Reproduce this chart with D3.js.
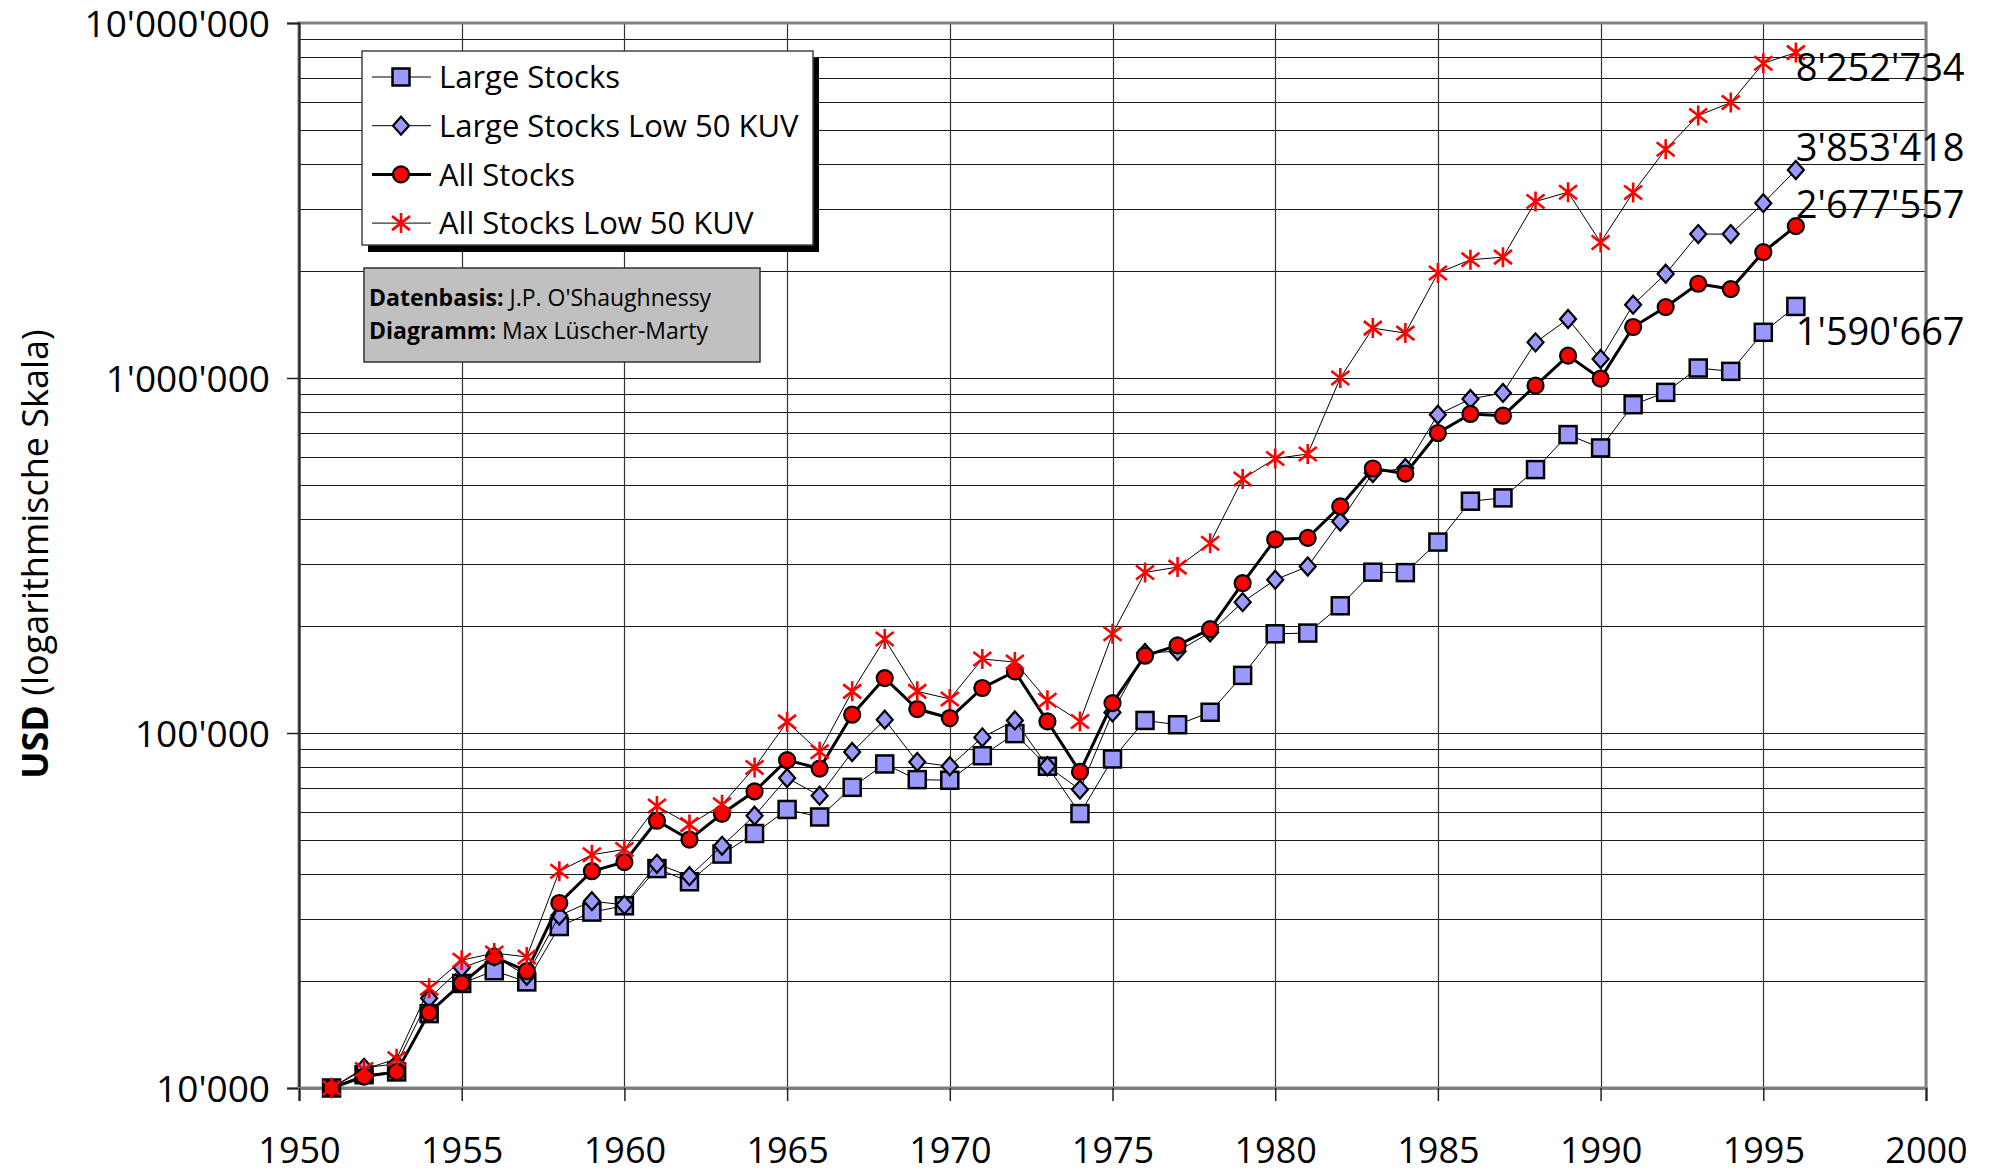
<!DOCTYPE html>
<html><head><meta charset="utf-8">
<script src="https://cdn.jsdelivr.net/npm/d3@7"></script>
<style>
html,body{margin:0;padding:0;background:#fff;}
svg{display:block;font-family:"Open Sans","Noto Sans",sans-serif;}
</style></head>
<body><svg id="chart" width="1997" height="1174"></svg>
<script>
const years = d3.range(1951, 1997);
const largeStocks = [10000,10900,11100,16200,19700,21400,19900,28500,31300,32600,41500,38100,45600,52100,60900,58000,70300,81800,73900,73600,86300,99600,80600,59300,84500,108500,105500,114400,145300,190300,191200,228200,283800,283000,345000,449700,459500,552100,692800,635300,841000,911100,1067000,1044000,1345000,1590667];
const largeLowKUV = [10000,11400,11700,17900,21800,23500,20700,30600,33600,32800,42800,39500,48100,58500,74700,66600,88400,109000,82900,80600,97200,108500,80600,69300,114300,168000,170000,192000,233700,270200,294400,394200,540000,558000,788400,872900,907500,1260000,1466000,1131000,1609000,1966000,2543000,2543000,3108000,3853418];
const allStocks = [10000,10770,11100,16300,19700,23400,21350,33200,40800,43300,56600,50100,59200,68500,83900,79400,112600,142800,116800,110200,133900,149100,107800,77700,121400,165100,176500,196200,264300,351000,354500,435000,556000,538000,700000,792000,783000,951500,1156000,995700,1392000,1584000,1843000,1780000,2263000,2677557];
const allLowKUV = [10000,11280,12090,19100,22900,24000,23400,40800,45400,47000,62300,55200,62800,80000,107500,88500,131000,183900,131000,124700,161600,158400,123600,107800,190300,283300,293300,342500,519600,593000,611000,1000000,1382000,1338000,1975000,2153000,2190000,3142000,3338000,2409000,3331000,4411000,5485000,5969000,7700000,8252734];
const seriesNames = ["Large Stocks","Large Stocks Low 50 KUV","All Stocks","All Stocks Low 50 KUV"];
const yTickValues = [10000,100000,1000000,10000000];
const xTickValues = [1950,1955,1960,1965,1970,1975,1980,1985,1990,1995,2000];
const endLabelDy = [39,-9,-8,28]; // label placement offsets (px)

const svg = d3.select("#chart");
const L = 299, R = 1926, T = 23, B = 1088;
const x = d3.scaleLinear().domain([1950,2000]).range([L,R]);
const y = d3.scaleLog().domain([1e4,1e7]).range([B,T]);
const loc = d3.formatLocale({decimal:".",thousands:"'",grouping:[3],currency:["",""]});
const fmt = loc.format(",d");

// gridlines
const minor = [];
for (let e=4;e<7;e++) for (let m=1;m<10;m++) minor.push(m*Math.pow(10,e));
minor.push(1e7);
const g = svg.append("g");
g.selectAll("line.h").data(minor).join("line")
 .attr("x1",L).attr("x2",R).attr("y1",d=>Math.round(y(d))+0.5).attr("y2",d=>Math.round(y(d))+0.5)
 .attr("stroke","#1a1a1a").attr("stroke-width",1.2);
g.selectAll("line.v").data(xTickValues).join("line")
 .attr("y1",T).attr("y2",B).attr("x1",d=>Math.round(x(d))+0.5).attr("x2",d=>Math.round(x(d))+0.5)
 .attr("stroke","#333").attr("stroke-width",1.2);

// frame
svg.append("rect").attr("x",L).attr("y",T).attr("width",R-L).attr("height",B-T)
 .attr("fill","none").attr("stroke","#808080").attr("stroke-width",3);

// axes
const yAxis = d3.axisLeft(y).tickValues(yTickValues).tickFormat(fmt).tickSize(12).tickPadding(17);
const ya = svg.append("g").attr("transform",`translate(${L},0)`).call(yAxis);
ya.select(".domain").attr("stroke","#222").attr("stroke-width",2);
ya.selectAll(".tick line").attr("stroke","#222").attr("stroke-width",1.5);
ya.selectAll(".tick text").attr("font-size",37).attr("fill","#000").attr("dy","0.36em").style("font-family","'Open Sans'");

const xAxis = d3.axisBottom(x).tickValues(xTickValues).tickFormat(d3.format("d")).tickSize(13).tickPadding(36);
const xa = svg.append("g").attr("transform",`translate(0,${B})`).call(xAxis);
xa.select(".domain").attr("stroke","#808080").attr("stroke-width",3);
xa.selectAll(".tick line").attr("stroke","#222").attr("stroke-width",1.5);
xa.selectAll(".tick text").attr("font-size",36).attr("fill","#000").style("font-family","'Open Sans'");

// Y title
const yt = svg.append("text").attr("transform","translate(48,554) rotate(-90)")
 .attr("text-anchor","middle").attr("font-size",36);
yt.append("tspan").attr("font-weight","bold").text("USD");
yt.append("tspan").text(" (logarithmische Skala)");

// markers
function drawMarker(sel, i){
  if(i===0){
    sel.append("rect").attr("x",-8.5).attr("y",-8.5).attr("width",17).attr("height",17)
      .attr("fill","#9999ff").attr("stroke","#000").attr("stroke-width",2.5);
  } else if(i===1){
    sel.append("path").attr("d","M0,-9L8,0L0,9L-8,0Z")
      .attr("fill","#9999ff").attr("stroke","#000").attr("stroke-width",2.2);
  } else if(i===2){
    sel.append("circle").attr("r",8).attr("fill","#ff0000").attr("stroke","#000").attr("stroke-width",2.2);
  } else {
    sel.append("path").attr("d","M0,-10L0,10M-9,-7L9,7M-9,7L9,-7")
      .attr("fill","none").attr("stroke","#ff0000").attr("stroke-width",2.6);
  }
}
const allSeries = [largeStocks, largeLowKUV, allStocks, allLowKUV];
const lineW = [1,1,3,1];
const line = d3.line().x((d,i)=>x(years[i])).y(d=>y(d));
allSeries.forEach((vals,si)=>{
  const sg = svg.append("g");
  sg.append("path").attr("d",line(vals)).attr("fill","none").attr("stroke","#000").attr("stroke-width",lineW[si]);
  vals.forEach((v,i)=>{
    const m = sg.append("g").attr("transform",`translate(${x(years[i])},${y(v)})`);
    drawMarker(m, si);
  });
});

// end labels
allSeries.forEach((vals,si)=>{
  const last = vals[vals.length-1];
  svg.append("text").attr("x",x(years[years.length-1])).attr("y",y(last)+endLabelDy[si])
    .attr("font-size",38).text(fmt(last));
});

// legend
const lg = svg.append("g");
lg.append("rect").attr("x",368).attr("y",58).attr("width",451).attr("height",194).attr("fill","#000");
lg.append("rect").attr("x",362).attr("y",51).attr("width",451).attr("height",194).attr("fill","#fff").attr("stroke","#444").attr("stroke-width",1.5);
seriesNames.forEach((name,i)=>{
  const cy = 77 + i*48.7;
  lg.append("line").attr("x1",372).attr("x2",431).attr("y1",cy).attr("y2",cy).attr("stroke","#000").attr("stroke-width",lineW[i]);
  drawMarker(lg.append("g").attr("transform",`translate(401,${cy})`), i);
  lg.append("text").attr("x",439).attr("y",cy).attr("dy","0.36em").attr("font-size",31).text(name);
});

// info box
const ib = svg.append("g");
ib.append("rect").attr("x",364).attr("y",268).attr("width",396).attr("height",94).attr("fill","#c0c0c0").attr("stroke","#333").attr("stroke-width",1.5);
const t1 = ib.append("text").attr("x",369).attr("y",306).attr("font-size",23);
t1.append("tspan").attr("font-weight","bold").text("Datenbasis:");
t1.append("tspan").text(" J.P. O'Shaughnessy");
const t2 = ib.append("text").attr("x",369).attr("y",339).attr("font-size",23);
t2.append("tspan").attr("font-weight","bold").text("Diagramm:");
t2.append("tspan").text(" Max Lüscher-Marty");
</script></body></html>
